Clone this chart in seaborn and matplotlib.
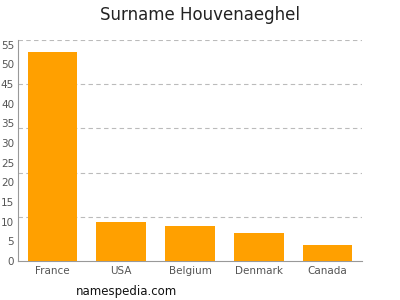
import matplotlib
matplotlib.use("Agg")
import matplotlib.pyplot as plt
import seaborn as sns
import pandas as pd
import numpy as np

countries = ["France", "USA", "Belgium", "Denmark", "Canada"]
counts = [53, 10, 9, 7, 4]
yticks = [0, 5, 10, 15, 20, 25, 30, 35, 40, 45, 50, 55]

sns.set_style("white")
plt.rcParams['font.family'] = ['DejaVu Sans']

df = pd.DataFrame({"country": countries, "count": counts})
fig = plt.figure(figsize=(4, 3), dpi=100)
ax = fig.add_axes([0.045, 0.13, 0.86, 0.737])
sns.barplot(data=df, x="country", y="count", color="#FFA000", saturation=1,
            width=0.72, ax=ax, zorder=3, linewidth=0, edgecolor="none")
ymax = 56.2
ax.set_xlim(-0.5, 4.5)
ax.set_ylim(0, ymax)
ax.set_yticks(yticks)
for g in np.linspace(ymax / 5, ymax, 5):
    ax.axhline(g, color="#bbbbbb", lw=0.8, ls=(0, (4, 3)), zorder=1)
ax.set_xlabel("")
ax.set_ylabel("")
for s in ["top", "right"]:
    ax.spines[s].set_visible(False)
for s in ["left", "bottom"]:
    ax.spines[s].set_color("#999999")
    ax.spines[s].set_linewidth(0.8)
ax.tick_params(axis="both", colors="#999999", labelcolor="#555555", labelsize=7.5,
               length=2.5, width=0.8, pad=1)
ax.tick_params(axis="y", pad=0.3)
fig.text(0.5, 0.95, "Surname Houvenaeghel", ha="center", va="center", fontsize=12, color="#222222")
fig.text(0.19, 0.027, "namespedia.com", ha="left", va="center", fontsize=8.5, color="#111111")
fig.savefig("out.png", dpi=100)
